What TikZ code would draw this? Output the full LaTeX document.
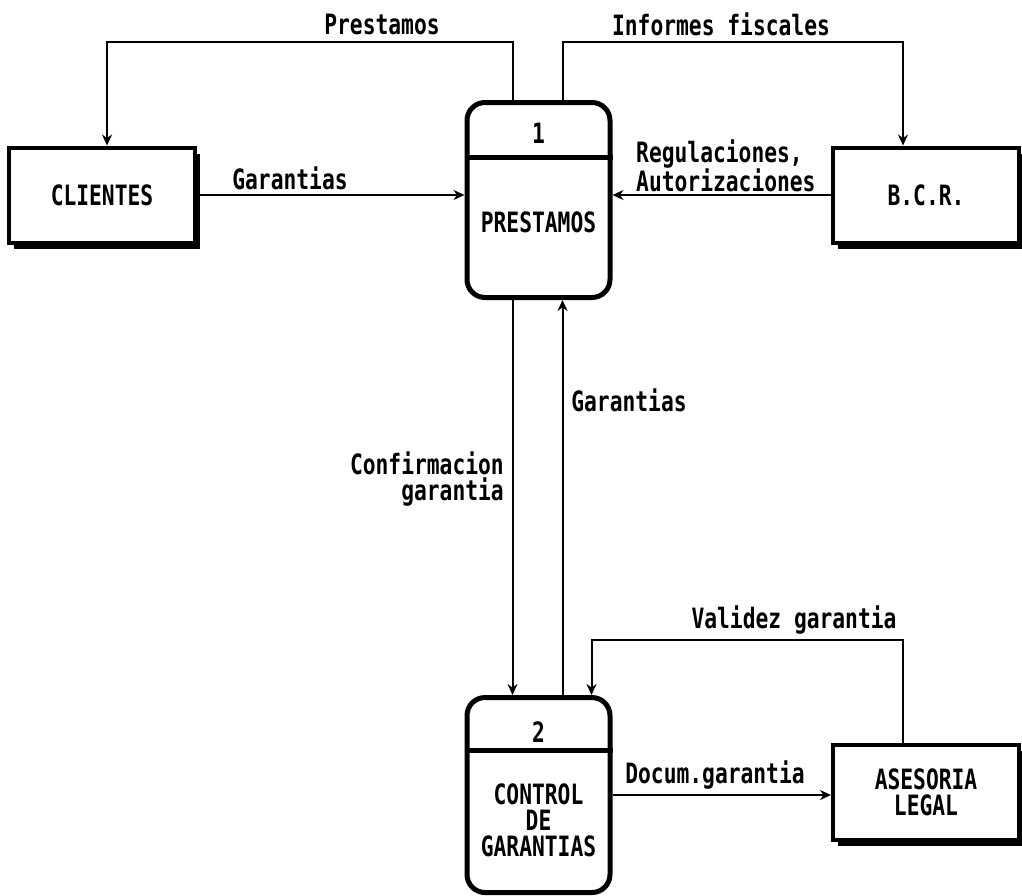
\documentclass[tikz,border=0pt]{standalone}
\usepackage{fontspec}
\newfontfamily\dfdfont{DejaVu Sans Mono}[FakeStretch=0.76]
\usetikzlibrary{arrows.meta,shadows}

\tikzset{
  dfdtext/.style={font={\dfdfont\bfseries\fontsize{28}{26}\selectfont}, inner sep=0pt},
  entity/.style={dfdtext, draw, line width=4pt, fill=white,
    minimum width=186pt, minimum height=95pt,
    drop shadow={shadow xshift=5pt, shadow yshift=-6pt, fill=black, opacity=1}},
  proc/.style={draw, line width=5pt, fill=white, rounded corners=18pt,
    minimum width=143pt, minimum height=195pt, inner sep=0pt},
  flow/.style={line width=2pt, -{Stealth[length=11pt,width=10pt]}},
  lbl/.style={dfdtext, align=center},
}

\begin{document}
\begin{tikzpicture}[x=1pt,y=-1pt]
\useasboundingbox[fill=white] (0,0) rectangle (1022,895);

% external entities
\node[entity] (cl) at (102,195) {CLIENTES};
\node[entity] (bcr) at (926,195) {B.C.R.};
\node[entity, align=center] (as) at (926,792) {ASESORIA\\LEGAL};

% process 1
\node[proc] (p1) at (538.5,200) {};
\draw[line width=5pt] (p1.west |- 0,157) -- (p1.east |- 0,157);
\node[dfdtext] (p1n) at (538.5,133) {1};
\node[dfdtext] (p1t) at (538.5,222) {PRESTAMOS};

% process 2
\node[proc] (p2) at (538.5,795) {};
\draw[line width=5pt] (p2.west |- 0,750) -- (p2.east |- 0,750);
\node[dfdtext] (p2n) at (538.5,732) {2};
\node[dfdtext, align=center] (p2t) at (538.5,820) {CONTROL\\DE\\GARANTIAS};

% data flows
\draw[flow] ([xshift=-26pt]p1.north) -- ++(0,-58) -| ([xshift=5pt]cl.north);
\draw[flow] ([xshift=24pt]p1.north) -- ++(0,-58) -| ([xshift=-23pt]bcr.north);
\draw[flow] (cl.east) -- (cl.east -| p1.west);
\draw[flow] (bcr.west) -- (bcr.west -| p1.east);
\draw[flow] ([xshift=-26pt]p1.south) -- ([xshift=-26pt]p2.north);
\draw[flow] ([xshift=24pt]p2.north) -- ([xshift=24pt]p1.south);
\draw[flow] ([xshift=-23pt]as.north) -- ++(0,-103) -| ([xshift=53pt]p2.north);
\draw[flow] (p2.east) -- (p2.east -| as.west);

% flow labels
\node[lbl] (lprest) at (382,24) {Prestamos};
\node[lbl] (linf) at (721,24) {Informes fiscales};
\node[lbl] (lgar1) at (290,178) {Garantias};
\node[dfdtext, align=left, anchor=west] (lreg) at (636,166) {Regulaciones,\\Autorizaciones};
\node[lbl] (lgar2) at (629,400) {Garantias};
\node[dfdtext, align=right, anchor=east] (lconf) at (504,479) {Confirmacion\\garantia};
\node[lbl] (lval) at (794,620) {Validez garantia};
\node[lbl] (ldoc) at (715,775) {Docum.garantia};
\end{tikzpicture}
\end{document}
